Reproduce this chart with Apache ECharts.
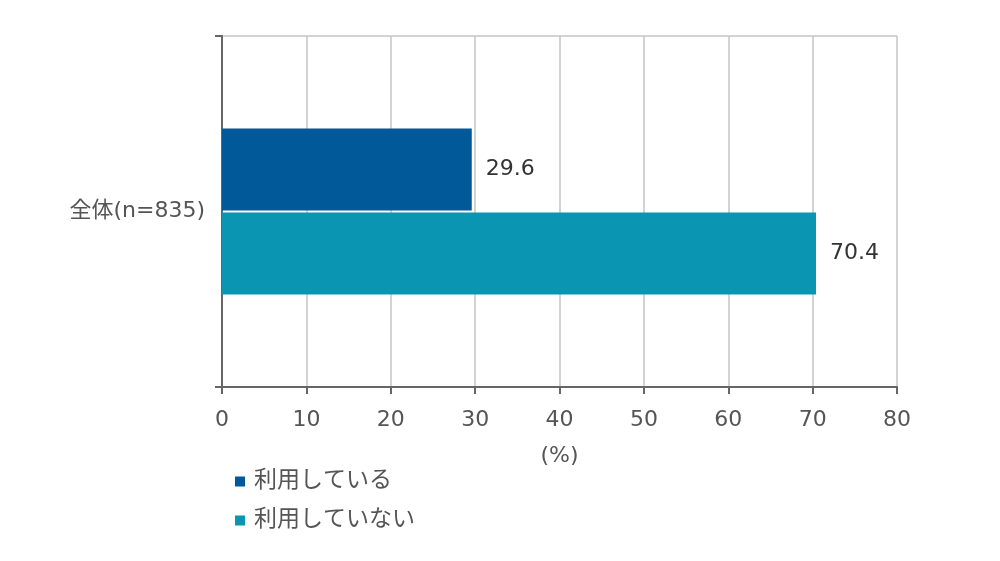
<!DOCTYPE html>
<html lang="ja">
<head>
    <meta charset="UTF-8">
    <script type="text/javascript" src="https://cdn.jsdelivr.net/npm/echarts@6/dist/echarts.min.js"></script>
    <title>利用状況</title>
    <style>
        html, body { margin: 0; padding: 0; background: #fff; }
        #main { width: 1000px; height: 561px; }
    </style>
</head>
<body>
<div id="main"></div>
<script type="text/javascript">
    // データ
    var categories = ['全体(n=835)'];
    var seriesNames = ['利用している', '利用していない'];
    var usingValues = [29.6];
    var notUsingValues = [70.4];
    var xTicks = [0, 10, 20, 30, 40, 50, 60, 70, 80];

    var fontFamily = '"DejaVu Sans", "Noto Sans CJK JP", sans-serif';
    var colors = ['#01599a', '#0a95b3'];

    var myChart = echarts.init(document.getElementById('main'));

    function makeSeries(name, data, color) {
        return {
            name: name,
            type: 'bar',
            data: data,
            barWidth: 82,
            barGap: '2.4%',
            itemStyle: { color: color },
            label: {
                show: true,
                position: 'right',
                distance: 14,
                color: '#333',
                fontSize: 22,
                fontFamily: fontFamily
            }
        };
    }

    option = {
        animation: false,
        backgroundColor: '#fff',
        textStyle: { fontFamily: fontFamily },
        grid: {
            left: 222,
            right: 103,
            top: 36,
            bottom: 174
        },
        legend: {
            orient: 'vertical',
            left: 230,
            top: 465,
            itemWidth: 10,
            itemHeight: 10,
            itemGap: 16,
            icon: 'rect',
            data: seriesNames,
            textStyle: {
                color: '#555',
                fontSize: 23,
                padding: [0, 0, 0, 4],
                fontFamily: fontFamily
            }
        },
        xAxis: {
            type: 'value',
            min: xTicks[0],
            max: xTicks[xTicks.length - 1],
            interval: 10,
            name: '(%)',
            nameLocation: 'middle',
            nameGap: 58,
            nameTextStyle: { color: '#555', fontSize: 22, fontFamily: fontFamily },
            axisLine: { show: true, lineStyle: { color: '#666', width: 2 } },
            axisTick: { show: true, length: 7, lineStyle: { color: '#666', width: 2 } },
            axisLabel: { color: '#555', fontSize: 22, margin: 22, fontFamily: fontFamily },
            splitLine: { show: true, lineStyle: { color: '#c4c4c4', width: 1.5 } }
        },
        yAxis: {
            type: 'category',
            inverse: true,
            data: categories,
            axisLine: { show: true, lineStyle: { color: '#666', width: 2 } },
            axisTick: { show: true, length: 7, lineStyle: { color: '#666', width: 2 } },
            axisLabel: { color: '#555', fontSize: 22, margin: 17, fontFamily: fontFamily },
            splitLine: { show: true, lineStyle: { color: '#c4c4c4', width: 1.5 } }
        },
        series: [
            makeSeries(seriesNames[0], usingValues, colors[0]),
            makeSeries(seriesNames[1], notUsingValues, colors[1])
        ]
    };
    myChart.setOption(option);
</script>
</body>
</html>
